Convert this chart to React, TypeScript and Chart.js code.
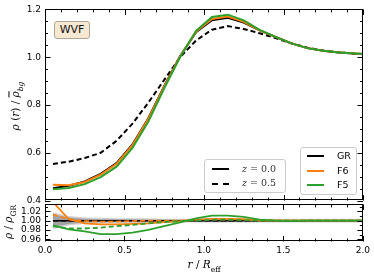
import React, { useEffect, useRef } from "react";
import { Chart, registerables } from "chart.js";
Chart.register(...registerables);

// ---------- data ----------
const radius = [0.05, 0.15, 0.25, 0.35, 0.45, 0.55, 0.65, 0.75, 0.85, 0.95, 1.05, 1.15, 1.25, 1.35, 1.45, 1.55, 1.65, 1.75, 1.85, 1.95, 2.05];

// main panel: rho(r)/rho_bg
const grZ00 = [0.452, 0.462, 0.48, 0.512, 0.557, 0.635, 0.745, 0.88, 1.005, 1.105, 1.155, 1.165, 1.145, 1.112, 1.085, 1.058, 1.038, 1.027, 1.02, 1.015, 1.012];
const f6Z00 = [0.466, 0.464, 0.478, 0.509, 0.554, 0.632, 0.742, 0.878, 1.004, 1.107, 1.160, 1.170, 1.148, 1.112, 1.085, 1.058, 1.038, 1.027, 1.02, 1.015, 1.012];
const f5Z00 = [0.447, 0.453, 0.469, 0.498, 0.542, 0.620, 0.731, 0.870, 1.001, 1.110, 1.168, 1.178, 1.154, 1.114, 1.085, 1.058, 1.038, 1.027, 1.02, 1.015, 1.012];
const grZ05 = [0.553, 0.563, 0.578, 0.600, 0.650, 0.722, 0.810, 0.905, 1.0, 1.07, 1.115, 1.13, 1.118, 1.100, 1.08, 1.058, 1.040, 1.028, 1.020, 1.014, 1.012];

// ratio panel: rho/rho_GR
const ratioGR = [1, 1, 1, 1, 1, 1, 1, 1, 1, 1, 1, 1, 1, 1, 1, 1, 1, 1, 1, 1, 1];
const ratioF6Z00 = [1.04, 1.003, 0.994, 0.992, 0.992, 0.993, 0.994, 0.997, 0.999, 1.002, 1.004, 1.004, 1.003, 1.0, 1.0, 1.0, 1.0, 1.0, 1.0, 1.0, 1.0];
const ratioF6Z05 = [1.013, 1.003, 0.999, 0.998, 0.998, 0.999, 1.0, 1.0, 1.0, 1.001, 1.002, 1.002, 1.002, 1.001, 1.0, 1.0, 1.0, 1.0, 1.0, 1.0, 1.0];
const ratioF5Z00 = [0.990, 0.981, 0.977, 0.971, 0.971, 0.974, 0.980, 0.988, 0.996, 1.005, 1.011, 1.011, 1.008, 1.002, 1.0, 0.999, 1.0, 1.0, 1.0, 1.0, 1.0];
const ratioF5Z05 = [0.988, 0.983, 0.983, 0.985, 0.988, 0.991, 0.994, 0.997, 0.999, 1.0, 1.002, 1.002, 1.001, 1.0, 1.0, 1.0, 1.0, 1.0, 1.0, 1.0, 1.0];
const bandOuterHi = [1.018, 1.010, 1.007, 1.006, 1.005, 1.005, 1.005, 1.004, 1.004, 1.004, 1.004, 1.004, 1.004, 1.004, 1.004, 1.004, 1.004, 1.004, 1.004, 1.004, 1.004];
const bandOuterLo = [0.982, 0.990, 0.993, 0.994, 0.995, 0.995, 0.995, 0.996, 0.996, 0.996, 0.996, 0.996, 0.996, 0.996, 0.996, 0.996, 0.996, 0.996, 0.996, 0.996, 0.996];
const bandInnerHi = [1.014, 1.007, 1.004, 1.003, 1.003, 1.003, 1.002, 1.002, 1.002, 1.002, 1.002, 1.002, 1.002, 1.002, 1.002, 1.002, 1.002, 1.002, 1.002, 1.002, 1.002];
const bandInnerLo = [0.986, 0.993, 0.996, 0.997, 0.997, 0.997, 0.998, 0.998, 0.998, 0.998, 0.998, 0.998, 0.998, 0.998, 0.998, 0.998, 0.998, 0.998, 0.998, 0.998, 0.998];

// ticks
const xMajorTicks = [0, 0.5, 1.0, 1.5, 2.0];
const xMinorTicks = [0.1, 0.2, 0.3, 0.4, 0.6, 0.7, 0.8, 0.9, 1.1, 1.2, 1.3, 1.4, 1.6, 1.7, 1.8, 1.9];
const mainYMajor = [0.4, 0.6, 0.8, 1.0, 1.2];
const mainYMinor = [0.45, 0.5, 0.55, 0.65, 0.7, 0.75, 0.85, 0.9, 0.95, 1.05, 1.1, 1.15];
const ratioYMajor = [0.96, 0.98, 1.0, 1.02];
const ratioYMinor = [0.97, 0.99, 1.01, 1.03];

// ---------- helpers ----------
const ORANGE = "#ff7f0e";
const GREEN = "#2ca02c";
const tickFont = { family: "DejaVu Sans", size: 9 };

const pts = (arr: number[]) => radius.map((x, i) => ({ x, y: arr[i] }));

const framePlugin = {
  id: "frame",
  afterDatasetsDraw(chart: any, _args: any, opts: any) {
    const { ctx, chartArea: a, scales } = chart;
    const xs = scales.x;
    const ys = scales.y;
    ctx.save();
    ctx.strokeStyle = "#000";
    ctx.lineWidth = 1;
    ctx.strokeRect(Math.round(a.left) + 0.5, Math.round(a.top) + 0.5, Math.round(a.right - a.left) - 1, Math.round(a.bottom - a.top) - 1);
    const seg = (x1: number, y1: number, x2: number, y2: number) => {
      ctx.beginPath();
      ctx.moveTo(x1, y1);
      ctx.lineTo(x2, y2);
      ctx.stroke();
    };
    const xt = (vals: number[], len: number) =>
      vals.forEach((v) => {
        const p = Math.round(xs.getPixelForValue(v)) + 0.5;
        seg(p, a.bottom, p, a.bottom - len);
        seg(p, a.top, p, a.top + len);
      });
    const yt = (vals: number[], len: number) =>
      vals.forEach((v) => {
        const p = Math.round(ys.getPixelForValue(v)) + 0.5;
        seg(a.left, p, a.left + len, p);
        seg(a.right, p, a.right - len, p);
      });
    xt(opts.xMajor, 5.5);
    xt(opts.xMinor, 3);
    yt(opts.yMajor, 5.5);
    yt(opts.yMinor, 3);
    ctx.restore();
  },
};

const line = (arr: number[], color: string, width: number, dash: number[] = []) => ({
  data: pts(arr),
  borderColor: color,
  borderWidth: width,
  borderDash: dash,
  pointRadius: 0,
  tension: 0,
  fill: false,
});

const band = (hi: number[], lo: number[], color: string) => [
  { data: pts(hi), borderWidth: 0, borderColor: "transparent", backgroundColor: color, pointRadius: 0, fill: "+1" },
  { data: pts(lo), borderWidth: 0, borderColor: "transparent", pointRadius: 0, fill: false },
];

function withOrder(ds: any[]) {
  // first in list is drawn at the bottom
  return ds.map((d, i) => ({ ...d, order: ds.length - i }));
}

export default function App() {
  const topRef = useRef<HTMLCanvasElement>(null);
  const botRef = useRef<HTMLCanvasElement>(null);

  useEffect(() => {
    const top = new Chart(topRef.current!, {
      type: "line",
      data: {
        datasets: withOrder([
          line(grZ05, "#000", 2, [5, 3]),
          line(grZ00, "#000", 2),
          line(f6Z00, ORANGE, 2),
          line(f5Z00, GREEN, 2),
        ]),
      },
      options: {
        animation: false,
        responsive: false,
        maintainAspectRatio: false,
        layout: { padding: { top: 7.5, right: 11, bottom: 8.5, left: 0 } },
        plugins: {
          legend: { display: false },
          tooltip: { enabled: false },
          frame: { xMajor: xMajorTicks, xMinor: xMinorTicks, yMajor: mainYMajor, yMinor: mainYMinor },
        } as any,
        scales: {
          x: { type: "linear", min: 0, max: 2, display: false },
          y: {
            type: "linear",
            min: 0.4,
            max: 1.2,
            afterFit: (s: any) => { s.width = 45; },
            afterBuildTicks: (s: any) => { s.ticks = mainYMajor.map((v) => ({ value: v })); },
            ticks: { font: tickFont, color: "#000", padding: 4, autoSkip: false, callback: (v: any) => Number(v).toFixed(1) },
            grid: { display: false, drawTicks: false },
            border: { display: false },
          },
        },
      },
      plugins: [framePlugin],
    });

    const bot = new Chart(botRef.current!, {
      type: "line",
      data: {
        datasets: withOrder([
          ...band(bandOuterHi, bandOuterLo, "rgba(175,175,175,0.6)"),
          ...band(bandInnerHi, bandInnerLo, "rgba(120,120,120,0.5)"),
          line(ratioGR, "#000", 1.5),
          line(ratioGR, "#000", 1.5, [5, 3]),
          line(ratioF6Z00, ORANGE, 1.8),
          line(ratioF6Z05, ORANGE, 1.8, [5, 3]),
          line(ratioF5Z00, GREEN, 1.8),
          line(ratioF5Z05, GREEN, 1.8, [5, 3]),
        ]),
      },
      options: {
        animation: false,
        responsive: false,
        maintainAspectRatio: false,
        layout: { padding: { top: 8, right: 11, bottom: 0, left: 0 } },
        plugins: {
          legend: { display: false },
          tooltip: { enabled: false },
          frame: { xMajor: xMajorTicks, xMinor: xMinorTicks, yMajor: ratioYMajor, yMinor: ratioYMinor },
        } as any,
        scales: {
          x: {
            type: "linear",
            min: 0,
            max: 2,
            afterFit: (s: any) => { s.height = 35.5; },
            afterBuildTicks: (s: any) => { s.ticks = xMajorTicks.map((v) => ({ value: v })); },
            ticks: { font: tickFont, color: "#000", padding: 4, maxRotation: 0, autoSkip: false, callback: (v: any) => Number(v).toFixed(1) },
            grid: { display: false, drawTicks: false },
            border: { display: false },
          },
          y: {
            type: "linear",
            min: 0.955,
            max: 1.035,
            afterFit: (s: any) => { s.width = 45; },
            afterBuildTicks: (s: any) => { s.ticks = ratioYMajor.map((v) => ({ value: v })); },
            ticks: { font: tickFont, color: "#000", padding: 4, autoSkip: false, callback: (v: any) => Number(v).toFixed(2) },
            grid: { display: false, drawTicks: false },
            border: { display: false },
          },
        },
      },
      plugins: [framePlugin],
    });

    return () => {
      top.destroy();
      bot.destroy();
    };
  }, []);

  const legendBox: React.CSSProperties = {
    position: "absolute",
    background: "rgba(255,255,255,0.8)",
    border: "1px solid #cccccc",
    borderRadius: 3,
    boxSizing: "border-box",
  };
  const row = (y: number): React.CSSProperties => ({ position: "absolute", left: 0, top: y, width: "100%", height: 0 });
  const seg = (color: string, dashed: boolean, left: number): React.CSSProperties => ({
    position: "absolute",
    left,
    top: -1,
    width: 17,
    height: 0,
    borderTop: `2px ${dashed ? "dashed" : "solid"} ${color}`,
  });
  const sans: React.CSSProperties = { fontFamily: "DejaVu Sans", fontSize: 9.5, color: "#000", position: "absolute", lineHeight: "10px", top: -5.5, whiteSpace: "nowrap" };
  const serif: React.CSSProperties = { fontFamily: "DejaVu Serif", fontSize: 9.5, color: "#333", position: "absolute", lineHeight: "10px", top: -5.5, whiteSpace: "nowrap" };

  return (
    <div style={{ position: "fixed", left: 0, top: 0, width: 374, height: 277, background: "#fff", overflow: "hidden" }}>
      <canvas ref={topRef} width={374} height={210} style={{ position: "absolute", left: 0, top: 0, width: 374, height: 210 }} />
      <canvas ref={botRef} width={374} height={82} style={{ position: "absolute", left: 0, top: 195, width: 374, height: 82 }} />

      {/* WVF label */}
      <div style={{ position: "absolute", left: 54, top: 21, width: 36, height: 18, boxSizing: "border-box", background: "#f7e8d2", border: "1px solid #b0a595", borderRadius: 3, fontFamily: "DejaVu Sans", fontSize: 11, lineHeight: "16px", textAlign: "center", color: "#111" }}>WVF</div>

      {/* redshift legend */}
      <div style={{ ...legendBox, left: 204, top: 159, width: 82, height: 34 }}>
        <div style={row(9)}>
          <div style={seg("#000", false, 7)} />
          <span style={{ ...serif, left: 37 }}><i>z</i> = 0.0</span>
        </div>
        <div style={row(23.5)}>
          <div style={seg("#000", true, 7)} />
          <span style={{ ...serif, left: 37 }}><i>z</i> = 0.5</span>
        </div>
      </div>

      {/* model legend */}
      <div style={{ ...legendBox, left: 300, top: 147, width: 57, height: 48 }}>
        <div style={row(8)}>
          <div style={seg("#000", false, 6)} />
          <span style={{ ...sans, left: 36 }}>GR</span>
        </div>
        <div style={row(23)}>
          <div style={seg(ORANGE, false, 6)} />
          <span style={{ ...sans, left: 36 }}>F6</span>
        </div>
        <div style={row(37)}>
          <div style={seg(GREEN, false, 6)} />
          <span style={{ ...sans, left: 36 }}>F5</span>
        </div>
      </div>

      {/* y label main */}
      <div style={{ position: "absolute", left: 17, top: 106, transform: "translate(-50%,-50%) rotate(-90deg)", whiteSpace: "nowrap", fontFamily: "DejaVu Serif", fontSize: 10.5, color: "#000" }}>
        <i>ρ</i> (<i>r</i>) / <span style={{ textDecoration: "overline" }}><i>ρ</i></span><sub style={{ fontSize: 7.5 }}><i>bg</i></sub>
      </div>

      {/* y label ratio */}
      <div style={{ position: "absolute", left: 10, top: 222, transform: "translate(-50%,-50%) rotate(-90deg)", whiteSpace: "nowrap", fontFamily: "DejaVu Serif", fontSize: 10.5, color: "#000" }}>
        <i>ρ</i> / <i>ρ</i><sub style={{ fontSize: 7.5 }}>GR</sub>
      </div>

      {/* x label */}
      <div style={{ position: "absolute", left: 204, top: 266, transform: "translate(-50%,-50%)", whiteSpace: "nowrap", fontFamily: "DejaVu Serif", fontSize: 10.5, color: "#000" }}>
        <i>r</i> / <i>R</i><sub style={{ fontSize: 7.5 }}>eff</sub>
      </div>
    </div>
  );
}
